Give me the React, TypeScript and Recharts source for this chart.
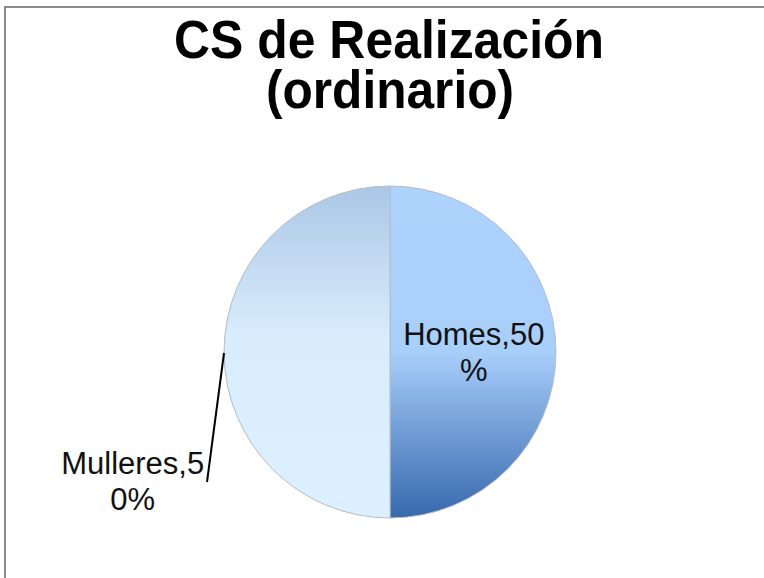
import React from 'react';
import { PieChart, Pie, Cell } from 'recharts';

const categories = ['Homes', 'Mulleres'];
const values = [50, 50];
// where the label text wraps onto a second line, per slice
const labelBreaks = [8, 10];
const titleLines = ['CS de Realización', '(ordinario)'];

const chartData = categories.map((name, i) => ({ name, value: values[i] }));
const total = values.reduce((a, b) => a + b, 0);

const FONT = '"Liberation Sans", Arial, sans-serif';

function renderLabel(props: any) {
  const { cx, cy, outerRadius, index, name, value } = props;
  const pct = Math.round((value / total) * 100);
  const full = `${name},${pct}%`;
  const first = full.slice(0, labelBreaks[index]);
  const second = full.slice(labelBreaks[index]);

  if (index === 0) {
    const x = cx + outerRadius * 0.505;
    return (
      <g>
        <text x={x} y={cy - 7} textAnchor="middle" fontSize={31} fontFamily={FONT} fill="#111">
          {first}
        </text>
        <text x={x} y={cy + 29} textAnchor="middle" fontSize={31} fontFamily={FONT} fill="#111">
          {second}
        </text>
      </g>
    );
  }

  const x = cx - outerRadius * 1.55;
  return (
    <g>
      <line
        x1={cx - outerRadius}
        y1={cy + 1}
        x2={cx - outerRadius - 17}
        y2={cy + 130}
        stroke="#000"
        strokeWidth={2}
      />
      <text x={x} y={cy + 122} textAnchor="middle" fontSize={31} fontFamily={FONT} fill="#111">
        {first}
      </text>
      <text x={x} y={cy + 158} textAnchor="middle" fontSize={31} fontFamily={FONT} fill="#111">
        {second}
      </text>
    </g>
  );
}

export default function App() {
  return (
    <div style={{ position: 'absolute', left: 0, top: 0, width: 764, height: 578, overflow: 'hidden', background: '#fff' }}>
      <div style={{ position: 'absolute', left: 0, top: 0 }}>
        <PieChart width={764} height={578} margin={{ top: 0, right: 0, bottom: 0, left: 0 }}>
          <defs>
            <linearGradient id="gradHomes" x1="0" y1="0" x2="0" y2="1">
              <stop offset="0%" stopColor="#add3fd" />
              <stop offset="50%" stopColor="#a8cefa" />
              <stop offset="75%" stopColor="#6f9bd3" />
              <stop offset="100%" stopColor="#3668ad" />
            </linearGradient>
            <linearGradient id="gradMulleres" x1="0" y1="0" x2="0" y2="1">
              <stop offset="0%" stopColor="#abc7e6" />
              <stop offset="45%" stopColor="#d9ecfc" />
              <stop offset="100%" stopColor="#dcf0ff" />
            </linearGradient>
          </defs>
          <Pie
            data={chartData}
            dataKey="value"
            nameKey="name"
            cx={390}
            cy={352}
            outerRadius={166}
            startAngle={90}
            endAngle={-270}
            stroke="#b4bcc6"
            strokeWidth={1}
            label={renderLabel}
            labelLine={false}
            isAnimationActive={false}
          >
            <Cell fill="url(#gradHomes)" />
            <Cell fill="url(#gradMulleres)" />
          </Pie>
        </PieChart>
      </div>
      <div
        style={{
          position: 'absolute',
          left: 4,
          top: 6,
          width: 760,
          height: 572,
          borderTop: '2px solid #8c8c8c',
          borderLeft: '2px solid #8c8c8c',
          zIndex: 5,
        }}
      />
      <svg width={764} height={578} style={{ position: 'absolute', left: 0, top: 0, pointerEvents: 'none' }}>
        <text
          x={389}
          y={58}
          textAnchor="middle"
          fontSize={53}
          fontWeight="bold"
          fontFamily={FONT}
          fill="#000"
          textLength={430}
          lengthAdjust="spacingAndGlyphs"
        >
          {titleLines[0]}
        </text>
        <text
          x={390}
          y={108}
          textAnchor="middle"
          fontSize={53}
          fontWeight="bold"
          fontFamily={FONT}
          fill="#000"
          textLength={248}
          lengthAdjust="spacingAndGlyphs"
        >
          {titleLines[1]}
        </text>
      </svg>
    </div>
  );
}
